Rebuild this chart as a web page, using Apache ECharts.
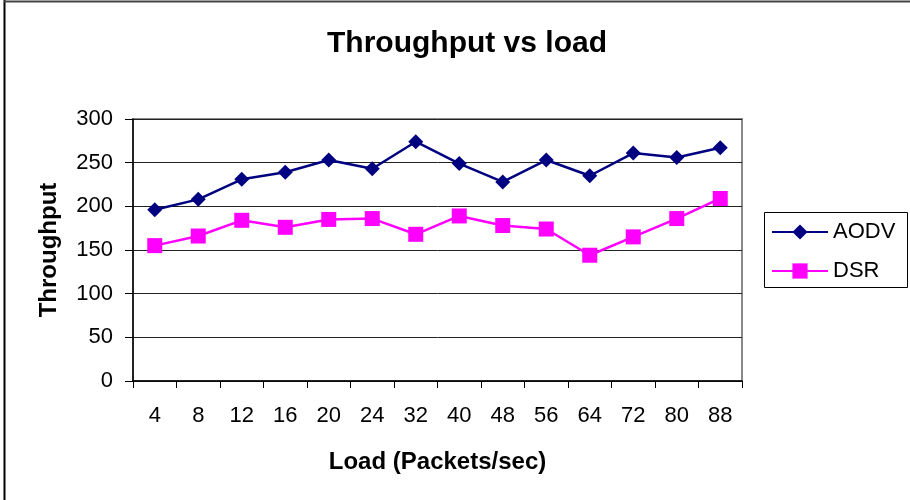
<!DOCTYPE html>
<html>
<head>
<meta charset="utf-8">
<script src="https://cdn.jsdelivr.net/npm/echarts@6/dist/echarts.min.js"></script>
<style>
html,body{margin:0;padding:0;background:#fff;}
#chart{width:910px;height:500px;}
</style>
</head>
<body>
<div id="chart"></div>
<script>
var categories = ['4','8','12','16','20','24','32','40','48','56','64','72','80','88'];
var aodv = [196, 208, 231, 239, 253, 243, 274, 249, 228, 253, 235, 261, 256, 267];
var dsr = [155, 166, 184, 176, 185, 186, 168, 189, 178, 174, 144, 165, 186, 209];
var yTicks = [0, 50, 100, 150, 200, 250, 300];

var chart = echarts.init(document.getElementById('chart'), null, {renderer: 'canvas'});
var font = 'Arial, "Liberation Sans", sans-serif';
chart.setOption({
  animation: false,
  backgroundColor: '#fff',
  title: {
    text: 'Throughput vs load',
    left: 462, top: 24, textAlign: 'center',
    textStyle: {fontFamily: font, fontSize: 30, fontWeight: 'bold', color: '#000'}
  },
  graphic: [
    {type: 'line', shape: {x1: 4.5, y1: 0, x2: 4.5, y2: 500}, style: {stroke: '#000', lineWidth: 2}},
    {type: 'line', shape: {x1: 4, y1: 1.5, x2: 910, y2: 1.5}, style: {stroke: '#444', lineWidth: 2}},
    {type: 'rect', shape: {x: 764.5, y: 212.5, width: 143, height: 75}, style: {fill: '#fff', stroke: '#000', lineWidth: 1}, z: 10}
  ],
  legend: {
    orient: 'vertical',
    left: 771, top: 221, padding: 0,
    itemWidth: 56, itemHeight: 19, itemGap: 17,
    textStyle: {fontFamily: font, fontSize: 22, color: '#000'},
    z: 20,
    data: ['AODV', 'DSR']
  },
  grid: {
    left: 133, right: 168, top: 119, bottom: 119,
    show: true, borderColor: '#888', borderWidth: 2, backgroundColor: '#fff'
  },
  xAxis: {
    type: 'category',
    data: categories,
    boundaryGap: true,
    name: 'Load (Packets/sec)',
    nameLocation: 'middle',
    nameGap: 69,
    nameTextStyle: {fontFamily: font, fontSize: 24, fontWeight: 'bold', color: '#000'},
    axisLine: {lineStyle: {color: '#000', width: 1.5}},
    axisTick: {show: true, alignWithLabel: false, length: 7, lineStyle: {color: '#000'}},
    axisLabel: {fontFamily: font, fontSize: 22, color: '#000', margin: 24}
  },
  yAxis: {
    type: 'value',
    min: 0, max: 300, interval: 50,
    name: 'Throughput',
    nameLocation: 'middle',
    nameGap: 72,
    nameTextStyle: {fontFamily: font, fontSize: 24, fontWeight: 'bold', color: '#000'},
    axisLine: {show: true, lineStyle: {color: '#000', width: 1.5}},
    axisTick: {show: true, length: 8, lineStyle: {color: '#000'}},
    axisLabel: {fontFamily: font, fontSize: 22, color: '#000', margin: 20,
      formatter: function (v) { return yTicks.indexOf(v) >= 0 ? String(v) : ''; }},
    splitLine: {show: true, lineStyle: {color: '#222', width: 1}}
  },
  series: [
    {
      name: 'AODV', type: 'line', data: aodv,
      symbol: 'diamond', symbolSize: 15,
      itemStyle: {color: '#000080'},
      lineStyle: {color: '#000080', width: 2.5},
      z: 3
    },
    {
      name: 'DSR', type: 'line', data: dsr,
      symbol: 'rect', symbolSize: 15,
      itemStyle: {color: '#ff00ff'},
      lineStyle: {color: '#ff00ff', width: 2.5},
      z: 2
    }
  ]
});
</script>
</body>
</html>
